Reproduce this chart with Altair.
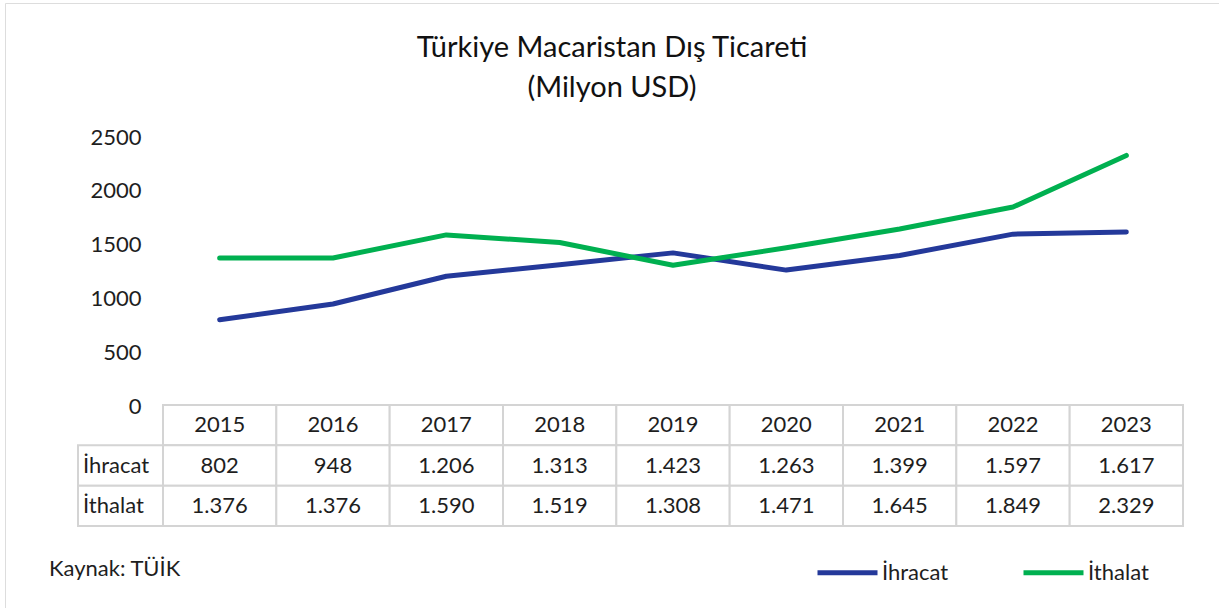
import altair as alt
import pandas as pd

years = [2015, 2016, 2017, 2018, 2019, 2020, 2021, 2022, 2023]
ihracat = [802, 948, 1206, 1313, 1423, 1263, 1399, 1597, 1617]
ithalat = [1376, 1376, 1590, 1519, 1308, 1471, 1645, 1849, 2329]
series_names = ["İhracat", "İthalat"]
row_names = ["header", "İhracat", "İthalat"]
y_ticks = [0, 500, 1000, 1500, 2000, 2500]

BLUE = "#24399A"
GREEN = "#00B050"
GRID = "#D4D4D4"
TXT = "#1E1E1E"
FONT = "Lato"

# long table for lines
rows = []
for i, y in enumerate(years):
    rows.append({"xc": i + 0.5, "series": "İhracat", "value": ihracat[i]})
    rows.append({"xc": i + 0.5, "series": "İthalat", "value": ithalat[i]})
lines_df = pd.DataFrame(rows)

# table cells
cells = []
for i, y in enumerate(years):
    cells.append({"x0": i, "x1": i + 1, "xc": i + 0.5, "row": "header", "label": str(y), "value": None})
    cells.append({"x0": i, "x1": i + 1, "xc": i + 0.5, "row": "İhracat", "label": None, "value": ihracat[i]})
    cells.append({"x0": i, "x1": i + 1, "xc": i + 0.5, "row": "İthalat", "label": None, "value": ithalat[i]})
for name in series_names:
    cells.append({"x0": -0.75, "x1": 0, "xc": -0.75, "row": name, "label": name, "value": None})
cells_df = pd.DataFrame(cells)

xscale = alt.Scale(domain=[0, 9], range=[158, 1178], nice=False, zero=False)
yrow = alt.Scale(domain=row_names, range=[402, 523], paddingInner=0, paddingOuter=0)

lines = alt.Chart(lines_df).mark_line(strokeWidth=5, strokeCap="round", strokeJoin="round").encode(
    x=alt.X("xc:Q", scale=xscale, axis=None),
    y=alt.Y("value:Q", scale=alt.Scale(domain=[0, 2500], range=[403, 134], nice=False, zero=False),
            axis=alt.Axis(values=y_ticks, format="d", title=None, grid=False, domain=False, ticks=False,
                          tickSize=0, labelPadding=0, offset=-136, labelFont=FONT, labelFontSize=22,
                          labelColor=TXT, labelAlign="right", labelBaseline="middle")),
    color=alt.Color("series:N", scale=alt.Scale(domain=series_names, range=[BLUE, GREEN]),
                    legend=alt.Legend(orient="none", legendX=810, legendY=537, direction="horizontal",
                                      title=None, symbolType="stroke", symbolSize=3600,
                                      symbolStrokeWidth=5, labelFont=FONT, labelFontSize=22,
                                      labelColor=TXT, labelOffset=2, columnPadding=64, padding=0)),
)

base = alt.Chart(cells_df)
rects = base.mark_rect(fill="white", stroke=GRID, strokeWidth=2).encode(
    x=alt.X("x0:Q", scale=xscale, axis=None),
    x2="x1:Q",
    y=alt.Y("row:N", scale=yrow, axis=None),
)
head_txt = base.transform_filter("datum.row == 'header'").mark_text(
    font=FONT, fontSize=22, color=TXT, align="center", baseline="middle").encode(
    x=alt.X("xc:Q", scale=xscale, axis=None),
    y=alt.Y("row:N", scale=yrow, axis=None),
    text="label:N",
)
val_txt = base.transform_filter("datum.value != null").transform_calculate(
    txt="replace(format(datum.value, ','), ',', '.')").mark_text(
    font=FONT, fontSize=22, color=TXT, align="center", baseline="middle").encode(
    x=alt.X("xc:Q", scale=xscale, axis=None),
    y=alt.Y("row:N", scale=yrow, axis=None),
    text="txt:N",
)
lab_txt = base.transform_filter("datum.x0 < 0").mark_text(
    font=FONT, fontSize=22, color=TXT, align="left", baseline="middle", dx=5).encode(
    x=alt.X("xc:Q", scale=xscale, axis=None),
    y=alt.Y("row:N", scale=yrow, axis=None),
    text="label:N",
)
source = alt.Chart(pd.DataFrame({"t": ["Kaynak: TÜİK"]})).mark_text(
    font=FONT, fontSize=22, color=TXT, align="left", baseline="middle").encode(
    x=alt.value(44), y=alt.value(566), text="t:N")

chart = alt.layer(rects, head_txt, val_txt, lab_txt, lines, source).resolve_scale(
    y="independent"
).properties(
    width=1214, height=605,
    autosize=alt.AutoSizeParams(type="none"),
    padding={"left": 5, "top": 3, "right": 0, "bottom": 0},
    title=alt.Title(["Türkiye Macaristan Dış Ticareti", "(Milyon USD)"], anchor="middle", frame="group",
                    offset=-100, font=FONT, fontSize=29, fontWeight="normal", color="#111111",
                    lineHeight=40),
).configure_view(stroke="#D9D9D9", strokeWidth=2).configure(background="white")

chart.save("out.html", embed_options={"renderer": "svg", "actions": False})
